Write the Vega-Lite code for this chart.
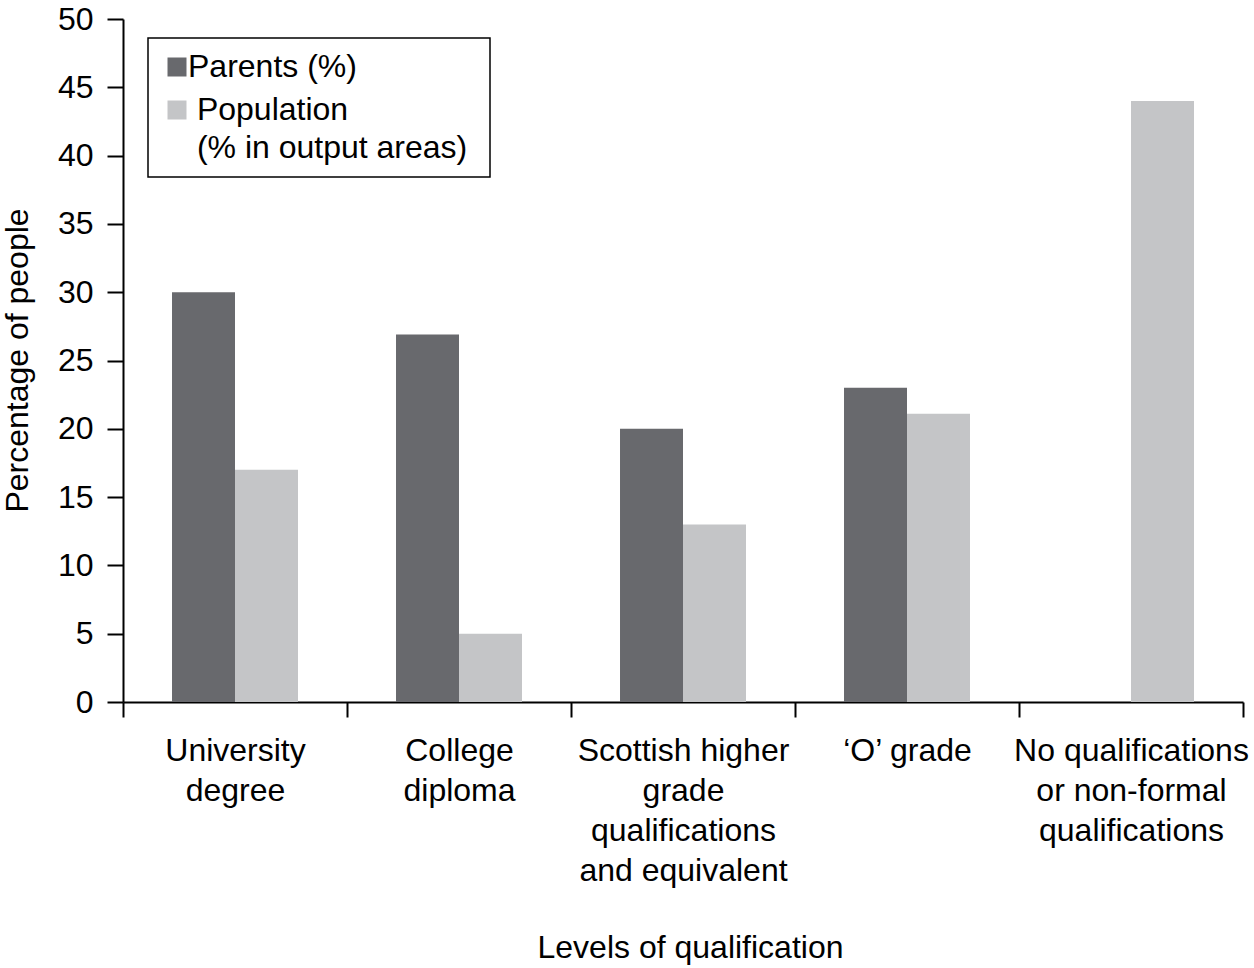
{
  "$schema": "https://vega.github.io/schema/vega-lite/v6.json",
  "width": 1120,
  "height": 683,
  "autosize": {"type": "none"},
  "padding": {"left": 123, "top": 19, "right": 11, "bottom": 266},
  "background": "white",
  "data": {
    "values": [
      {"level": "University degree", "group": "Parents (%)", "pct": 30},
      {"level": "University degree", "group": "Population (% in output areas)", "pct": 17},
      {"level": "College diploma", "group": "Parents (%)", "pct": 26.9},
      {"level": "College diploma", "group": "Population (% in output areas)", "pct": 5},
      {"level": "Scottish higher grade qualifications and equivalent", "group": "Parents (%)", "pct": 20},
      {"level": "Scottish higher grade qualifications and equivalent", "group": "Population (% in output areas)", "pct": 13},
      {"level": "‘O’ grade", "group": "Parents (%)", "pct": 23},
      {"level": "‘O’ grade", "group": "Population (% in output areas)", "pct": 21.1},
      {"level": "No qualifications or non-formal qualifications", "group": "Parents (%)", "pct": 0},
      {"level": "No qualifications or non-formal qualifications", "group": "Population (% in output areas)", "pct": 44}
    ]
  },
  "mark": {"type": "bar"},
  "encoding": {
    "x": {
      "field": "level",
      "type": "nominal",
      "sort": null,
      "scale": {"paddingInner": 0, "paddingOuter": 0},
      "axis": {
        "title": "Levels of qualification",
        "tickBand": "extent",
        "tickSize": 15,
        "labelAngle": 0,
        "labelPadding": 18,
        "labelBaseline": "top",
        "labelLineHeight": 40,
        "labelLimit": 400,
        "labelOverlap": false,
        "labelExpr": "datum.label == 'University degree' ? ['University', 'degree'] : datum.label == 'College diploma' ? ['College', 'diploma'] : datum.label == 'Scottish higher grade qualifications and equivalent' ? ['Scottish higher', 'grade', 'qualifications', 'and equivalent'] : datum.label == 'No qualifications or non-formal qualifications' ? ['No qualifications', 'or non-formal', 'qualifications'] : datum.label",
        "titleX": 567,
        "titleY": 245,
        "titleBaseline": "middle"
      }
    },
    "xOffset": {
      "field": "group",
      "type": "nominal",
      "sort": null,
      "scale": {"paddingInner": 0, "paddingOuter": 0.778}
    },
    "y": {
      "field": "pct",
      "type": "quantitative",
      "scale": {"domain": [0, 50], "nice": false},
      "axis": {
        "title": "Percentage of people",
        "values": [0, 5, 10, 15, 20, 25, 30, 35, 40, 45, 50],
        "tickSize": 16,
        "labelPadding": 14,
        "grid": false,
        "titleX": -89,
        "titleY": 341
      }
    },
    "color": {
      "field": "group",
      "type": "nominal",
      "sort": null,
      "scale": {
        "domain": ["Parents (%)", "Population (% in output areas)"],
        "range": ["#68696d", "#c4c5c7"]
      },
      "legend": {
        "title": null,
        "orient": "none",
        "legendX": 25,
        "legendY": 19,
        "symbolType": "square",
        "symbolSize": 361,
        "symbolStrokeWidth": 0,
        "symbolOpacity": 1,
        "labelOffset": -5,
        "labelLimit": 400,
        "padding": 13,
        "rowPadding": 11,
        "strokeColor": "black",
        "labelExpr": "datum.label == 'Parents (%)' ? 'Parents (%)' : ['\u200b\u00a0Population', '\u200b\u00a0(% in output areas)\u00a0\u200b']"
      }
    }
  },
  "config": {
    "view": {"stroke": null},
    "font": "Liberation Sans",
    "style": {"guide-label": {"lineHeight": 38}},
    "axis": {
      "domainColor": "black",
      "domainWidth": 2,
      "tickColor": "black",
      "tickWidth": 2,
      "labelColor": "black",
      "labelFont": "Liberation Sans",
      "labelFontSize": 32,
      "titleColor": "black",
      "titleFont": "Liberation Sans",
      "titleFontSize": 32,
      "titleFontWeight": "normal"
    },
    "legend": {
      "labelColor": "black",
      "labelFont": "Liberation Sans",
      "labelFontSize": 32,
      "strokeWidth": 1.5
    }
  }
}
